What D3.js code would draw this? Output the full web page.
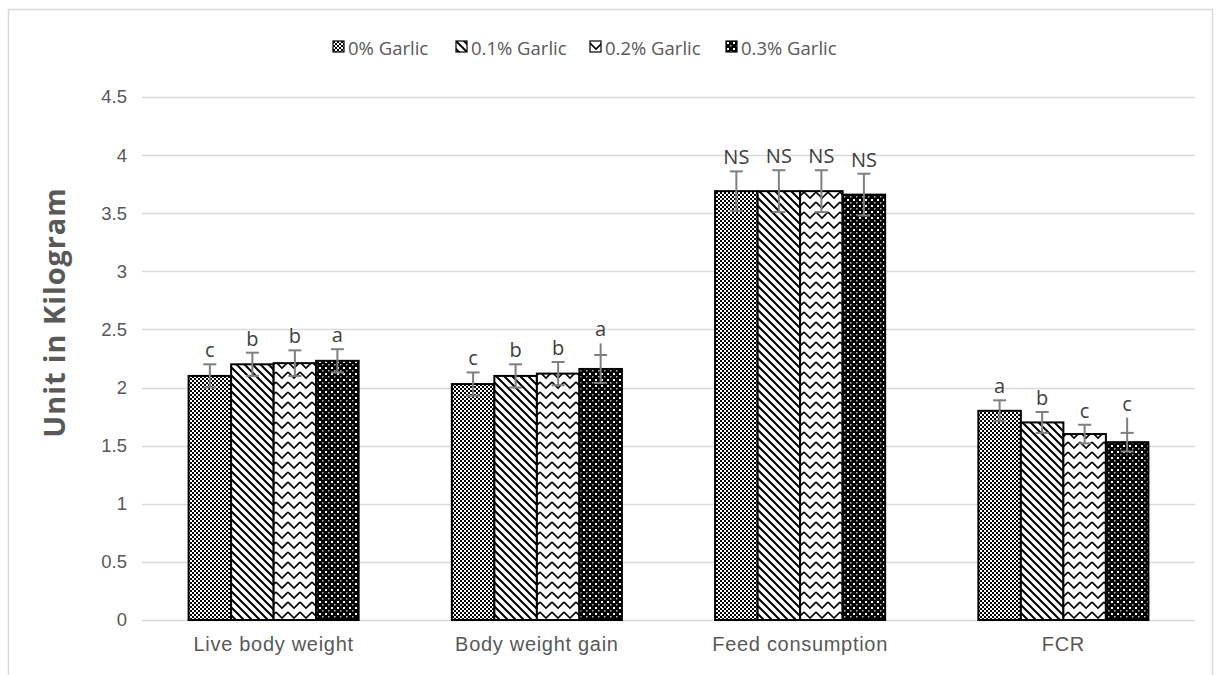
<!DOCTYPE html>
<html>
<head>
<meta charset="utf-8">
<script src="https://cdn.jsdelivr.net/npm/d3@7"></script>
<style>
  body { margin: 0; background: #fff; }
  svg { display: block; font-family: "Open Sans", "Noto Sans", sans-serif; }
</style>
</head>
<body>
<div id="chart"></div>
<script>
// data
const categories = ["Live body weight", "Body weight gain", "Feed consumption", "FCR"];
const series = ["0% Garlic", "0.1% Garlic", "0.2% Garlic", "0.3% Garlic"];
// one row per series, one value per category
const means = [
  [2.10, 2.03, 3.69, 1.80],
  [2.20, 2.10, 3.69, 1.70],
  [2.21, 2.12, 3.69, 1.60],
  [2.23, 2.16, 3.66, 1.53]
];
const errs = [
  [0.10, 0.10, 0.17, 0.09],
  [0.10, 0.10, 0.18, 0.09],
  [0.11, 0.10, 0.18, 0.08],
  [0.10, 0.12, 0.18, 0.08]
];
// some whiskers run on past their cap
const extra = [
  [0, 0, 0, 0],
  [0, 0, 0, 0],
  [0, 0, 0, 0],
  [0, 0.10, 0, 0.13]
];
const letters = [
  ["c", "c", "NS", "a"],
  ["b", "b", "NS", "b"],
  ["b", "b", "NS", "c"],
  ["a", "a", "NS", "c"]
];
const yTicks = [0, 0.5, 1, 1.5, 2, 2.5, 3, 3.5, 4, 4.5];

const W = 1222, H = 675;
const plot = { left: 142, right: 1195, top: 97, bottom: 620 };

const svg = d3.select("#chart").append("svg")
  .attr("width", W).attr("height", H);

// patterns
const defs = svg.append("defs");
const patIds = ["p0", "p1", "p2", "p3"];

let p = defs.append("pattern").attr("id", "p0").attr("patternUnits", "userSpaceOnUse")
  .attr("width", 4).attr("height", 4);
p.append("rect").attr("width", 4).attr("height", 4).attr("fill", "#fff");
p.append("rect").attr("width", 2).attr("height", 2).attr("fill", "#000");
p.append("rect").attr("x", 2).attr("y", 2).attr("width", 2).attr("height", 2).attr("fill", "#000");

p = defs.append("pattern").attr("id", "p1").attr("patternUnits", "userSpaceOnUse")
  .attr("width", 8).attr("height", 8);
p.append("rect").attr("width", 8).attr("height", 8).attr("fill", "#fff");
p.append("path").attr("d", "M-2,-2L10,10M-2,6L2,10M6,-2L10,2")
  .attr("stroke", "#000").attr("stroke-width", 2);

p = defs.append("pattern").attr("id", "p2").attr("patternUnits", "userSpaceOnUse")
  .attr("width", 12).attr("height", 10);
p.append("rect").attr("width", 12).attr("height", 10).attr("fill", "#fff");
p.append("path").attr("d", "M0,2L6,8L12,2")
  .attr("fill", "none").attr("stroke", "#000").attr("stroke-width", 1.6);

p = defs.append("pattern").attr("id", "p3").attr("patternUnits", "userSpaceOnUse")
  .attr("width", 6).attr("height", 6);
p.append("rect").attr("width", 6).attr("height", 6).attr("fill", "#000");
p.append("rect").attr("x", 1).attr("y", 1).attr("width", 2).attr("height", 2).attr("fill", "#fff");
p.append("rect").attr("x", 4).attr("y", 4).attr("width", 1.5).attr("height", 1.5).attr("fill", "#bbb");

// outer frame
svg.append("rect")
  .attr("x", 8.5).attr("y", 9.5).attr("width", 1204).attr("height", 680)
  .attr("fill", "none").attr("stroke", "#d9d9d9").attr("stroke-width", 1.5);

// scales
const y = d3.scaleLinear().domain([0, 4.5]).range([plot.bottom, plot.top]);
const x0 = d3.scaleBand().domain(categories).range([plot.left, plot.right])
  .paddingInner(0.354).paddingOuter(0.177);
const x1 = d3.scaleBand().domain(series).range([0, x0.bandwidth()]);

// gridlines
svg.append("g").selectAll("line").data(yTicks).join("line")
  .attr("x1", plot.left).attr("x2", plot.right)
  .attr("y1", d => Math.round(y(d)) + 0.5).attr("y2", d => Math.round(y(d)) + 0.5)
  .attr("stroke", "#d9d9d9").attr("stroke-width", 1.5);

// y axis labels
const yAxis = svg.append("g").attr("transform", `translate(${plot.left},0)`)
  .call(d3.axisLeft(y).tickValues(yTicks).tickSize(0).tickPadding(15).tickFormat(d3.format("")));
yAxis.select(".domain").remove();
yAxis.selectAll("text").attr("fill", "#595959").style("font-size", "18.5px");

// x axis labels
const xAxis = svg.append("g").attr("transform", `translate(0,${plot.bottom})`)
  .call(d3.axisBottom(x0).tickSize(0).tickPadding(17));
xAxis.select(".domain").remove();
xAxis.selectAll("text").attr("fill", "#595959").style("font-size", "20px")
  .style("letter-spacing", "0.7px");

// y title
svg.append("text")
  .attr("transform", `translate(53,${(plot.top + plot.bottom) / 2 - 46}) rotate(-90)`)
  .attr("text-anchor", "middle").attr("dominant-baseline", "central")
  .attr("fill", "#595959").style("font-size", "29px").style("font-weight", "bold")
  .style("letter-spacing", "0.9px")
  .text("Unit in Kilogram");

// bars
const rows = [];
series.forEach((s, si) => categories.forEach((c, ci) => {
  rows.push({ s, si, c, v: means[si][ci], e: errs[si][ci], x: extra[si][ci], l: letters[si][ci] });
}));

const g = svg.append("g");
g.selectAll("rect.bar").data(rows).join("rect")
  .attr("class", "bar")
  .attr("x", d => x0(d.c) + x1(d.s))
  .attr("y", d => y(d.v))
  .attr("width", x1.bandwidth())
  .attr("height", d => y(0) - y(d.v))
  .attr("fill", d => `url(#${patIds[d.si]})`)
  .attr("stroke", "#000").attr("stroke-width", 2);

// error bars
const cx = d => x0(d.c) + x1(d.s) + x1.bandwidth() / 2;
const eb = svg.append("g").attr("stroke", "#7f7f7f").attr("stroke-width", 2);
eb.selectAll("line.v").data(rows).join("line").attr("class", "v")
  .attr("x1", cx).attr("x2", cx)
  .attr("y1", d => y(d.v - d.e)).attr("y2", d => y(d.v + d.e + d.x));
eb.selectAll("line.t").data(rows).join("line").attr("class", "t")
  .attr("x1", d => cx(d) - 6.5).attr("x2", d => cx(d) + 6.5)
  .attr("y1", d => y(d.v + d.e)).attr("y2", d => y(d.v + d.e));
eb.selectAll("line.b").data(rows).join("line").attr("class", "b")
  .attr("x1", d => cx(d) - 6.5).attr("x2", d => cx(d) + 6.5)
  .attr("y1", d => y(d.v - d.e)).attr("y2", d => y(d.v - d.e));

// significance letters
svg.append("g").selectAll("text").data(rows).join("text")
  .attr("x", cx)
  .attr("y", d => y(d.v + d.e + d.x) - 7)
  .attr("text-anchor", "middle")
  .attr("fill", "#404040").style("font-size", "20px")
  .text(d => d.l);

// legend
const legX = [333, 456, 590, 726];
const leg = svg.append("g").selectAll("g").data(series).join("g")
  .attr("transform", (d, i) => `translate(${legX[i]},41)`);
leg.append("rect").attr("width", 11).attr("height", 11)
  .attr("fill", (d, i) => `url(#${patIds[i]})`)
  .attr("stroke", "#000").attr("stroke-width", 1.2);
leg.append("text").attr("x", 15).attr("y", 6).attr("dominant-baseline", "central")
  .attr("fill", "#595959").style("font-size", "18.5px")
  .text(d => d);
</script>
</body>
</html>
